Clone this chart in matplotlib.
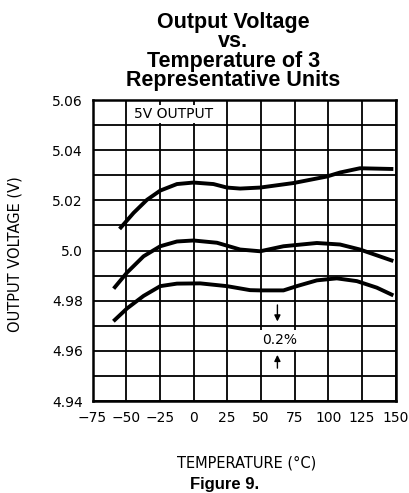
import matplotlib.pyplot as plt
import numpy as np

# temperatures (C) and output voltages (V)
temp_hi = [-54.9, -44.5, -34.6, -24.7, -12.3, 0, 14.8, 24.8, 34.6, 49.5, 74.2, 99, 108.8, 123.6, 148.4]
volt_hi = [5.0086, 5.015, 5.0202, 5.0239, 5.0265, 5.0271, 5.0265, 5.0251, 5.0247, 5.0251, 5.0269, 5.0295, 5.0311, 5.0328, 5.0325]

temp_mid = [-59.3, -49.4, -37.1, -24.7, -12.3, 0, 17.4, 34.6, 49.5, 66.8, 91.6, 108.8, 123.6, 148.4]
volt_mid = [4.9848, 4.9912, 4.9977, 5.0017, 5.0036, 5.004, 5.0031, 5.0004, 4.9997, 5.0017, 5.003, 5.0024, 5.0004, 4.9958]

temp_lo = [-59.5, -49.4, -37.1, -24.7, -12.3, 5, 24.8, 42, 49.5, 66.8, 76.7, 91.6, 106.4, 121.3, 136.1, 148.4]
volt_lo = [4.9718, 4.9769, 4.9819, 4.9858, 4.9868, 4.9869, 4.9858, 4.9842, 4.9841, 4.9841, 4.9858, 4.9881, 4.9889, 4.9878, 4.9852, 4.9821]

x_ticks = [-75, -50, -25, 0, 25, 50, 75, 100, 125, 150]
y_ticks = [4.94, 4.96, 4.98, 5.0, 5.02, 5.04, 5.06]
y_labels = ['4.94', '4.96', '4.98', '5.0', '5.02', '5.04', '5.06']

fig = plt.figure(figsize=(4.09, 4.93), dpi=100)
ax = fig.add_axes([0.2262, 0.1866, 0.7408, 0.6105])

for t, v in [(temp_hi, volt_hi), (temp_mid, volt_mid), (temp_lo, volt_lo)]:
    ax.plot(t, v, color='black', lw=2.8, solid_capstyle='butt', solid_joinstyle='round', zorder=3)

ax.set_xlim(-75, 150)
ax.set_ylim(4.94, 5.06)
ax.set_xticks(x_ticks)
ax.set_xticklabels([str(x).replace('-', '\u2212') for x in x_ticks])
ax.set_yticks(y_ticks)
ax.set_yticklabels(y_labels)
ax.set_yticks(np.arange(4.95, 5.06, 0.02), minor=True)
ax.grid(True, which='both', color='black', lw=1.3)
ax.tick_params(which='both', length=0, labelsize=10, pad=7)
for s in ax.spines.values():
    s.set_linewidth(1.8)

ax.text(-15, 5.0545, '5V OUTPUT', fontsize=10, ha='center', va='center', zorder=4,
        bbox=dict(facecolor='white', edgecolor='none', pad=1.5))
ax.text(63.8, 4.9643, '0.2%', fontsize=10, ha='center', va='center', zorder=4,
        bbox=dict(facecolor='white', edgecolor='none', pad=2.2))
ax.annotate('', xy=(62.3, 4.9706), xytext=(62.3, 4.9794),
            arrowprops=dict(arrowstyle='-|>', color='black', lw=1, mutation_scale=9), zorder=5)
ax.annotate('', xy=(62.3, 4.9595), xytext=(62.3, 4.952),
            arrowprops=dict(arrowstyle='-|>', color='black', lw=1, mutation_scale=9), zorder=5)

fig.text(0.570, 0.976, 'Output Voltage\nvs.\nTemperature of 3\nRepresentative Units',
         family='Liberation Sans', weight='bold', fontsize=15.5, ha='center', va='top', linespacing=0.9)
fig.text(0.037, 0.485, 'OUTPUT VOLTAGE (V)', rotation=90, fontsize=10.5, ha='center', va='center')
fig.text(0.604, 0.061, 'TEMPERATURE (\u00b0C)', fontsize=10.5, ha='center', va='center')
fig.text(0.55, 0.018, 'Figure 9.', family='Liberation Sans', weight='bold', fontsize=12,
         ha='center', va='center')

fig.savefig('out.png', dpi=100)
